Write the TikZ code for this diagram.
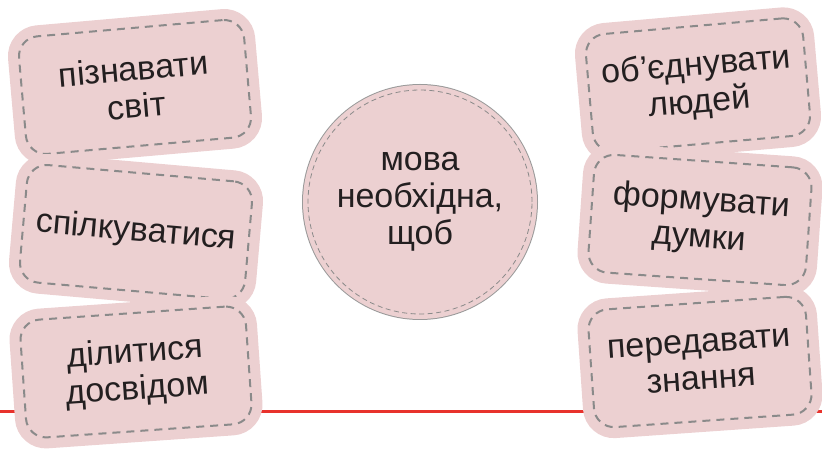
\documentclass[tikz,border=0pt]{standalone}
\usepackage{fontspec}
\setmainfont{Liberation Sans}
\definecolor{cardpink}{HTML}{ECD0D1}
\definecolor{seamgray}{HTML}{8A8A8A}
\definecolor{ringgray}{HTML}{9A9A9A}
\definecolor{rulered}{HTML}{E8322C}
\definecolor{inkdark}{HTML}{231F20}
\tikzset{
  card/.style={draw=seamgray, dash pattern=on 8pt off 6pt, line width=2pt,
    fill=cardpink, rounded corners=20pt, minimum width=226pt, minimum height=118pt,
    inner sep=0pt, align=center, text=inkdark, font=\fontsize{34}{37}\selectfont,
    preaction={draw=cardpink, solid, line width=22pt}},
  cardnarrow/.style={card, minimum width=218pt},
  hub/.style={circle, draw=seamgray, dash pattern=on 5pt off 3.5pt, line width=0.8pt,
    fill=cardpink, minimum size=224pt, inner sep=0pt, align=center, text=inkdark,
    font=\fontsize{34}{37}\selectfont,
    preaction={draw=ringgray, solid, line width=12pt},
    preaction={draw=cardpink, solid, line width=10pt}}
}
\begin{document}
\begin{tikzpicture}[x=1pt,y=1pt]
\useasboundingbox (0,0) rectangle (822,449);
% red rule behind the cards
\coordinate (ruleL) at (0,37);
\coordinate (ruleR) at (822,37);
\draw [rulered, line width=3pt] (ruleL) -- (ruleR);
% left column
\node [card, rotate=5] (svit) at (135,362) {пізнавати\\світ};
\node [card, rotate=-5] (spilk) at (136,217) {спілкуватися};
\node [card, rotate=4] (dosvid) at (136,77) {ділитися\\досвідом};
% right column
\node [cardnarrow, rotate=5] (ludy) at (698,364) {об’єднувати\\людей};
\node [cardnarrow, rotate=-4] (dumky) at (700,229) {формувати\\думки};
\node [cardnarrow, rotate=4] (znann) at (700,87) {передавати\\знання};
% centre
\node [hub] (mova) at (420,247) {мова\\необхідна,\\щоб};
\end{tikzpicture}
\end{document}
